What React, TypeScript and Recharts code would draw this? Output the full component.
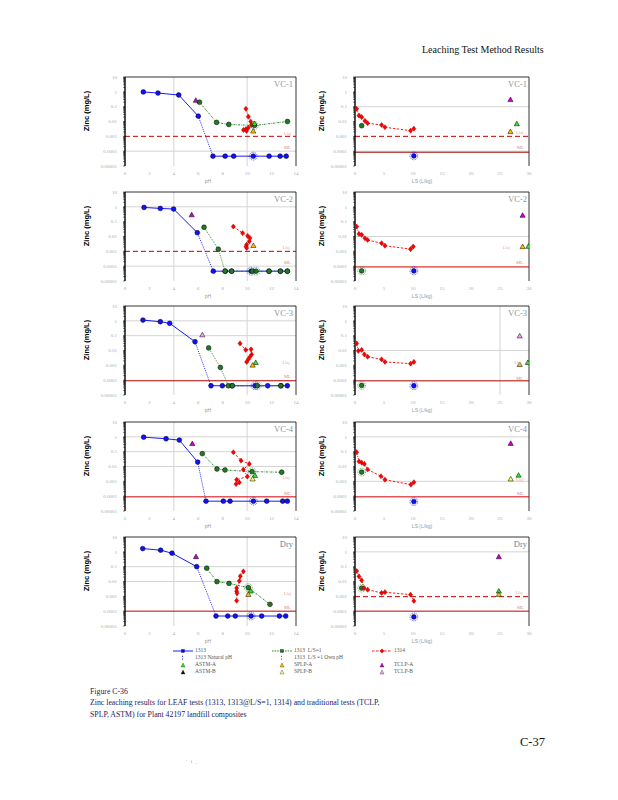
import { ScatterChart, Scatter, XAxis, YAxis, ReferenceLine, ReferenceDot } from "recharts";

type P = [number, number];
type Tri = [string, number, number];
type Ring = ["b" | "g", number, number];
type Note = [string, number, number];

// ---- VC-1 (pH / L/S)
const vc1PhBlue: P[] = [[1.5, 0.98], [2.7, 0.83], [4.4, 0.61], [6.0, 0.023], [7.2, 4.6e-5], [8.2, 4.6e-5], [8.9, 4.6e-5], [10.5, 4.6e-5], [11.8, 4.6e-5], [12.7, 4.6e-5], [13.2, 4.6e-5]];
const vc1PhGreen: P[] = [[6.1, 0.2], [7.5, 0.0087], [8.5, 0.0063], [10.6, 0.0054], [13.3, 0.01]];
const vc1PhRed: P[] = [[9.9, 0.072], [10.1, 0.021], [10.3, 0.0098], [10.35, 0.0058], [10.1, 0.0038], [9.9, 0.0031], [9.7, 0.0027], [9.95, 0.0023]];
const vc1PhTri: Tri[] = [["tclpA", 5.8, 0.26], ["astmA", 10.6, 0.0071], ["splpA", 10.5, 0.0022]];
const vc1PhNat: Ring[] = [["b", 10.5, 4.6e-5], ["g", 10.6, 0.0054]];
const vc1PhNotes: Note[] = [["Llaj", 13.3, 0.0017], ["ML", 13.3, 1.7e-4]];

const vc1LsRed: P[] = [[0.29, 0.071], [0.69, 0.025], [1.15, 0.02], [1.72, 0.011], [2.18, 0.0076], [4.59, 0.0058], [5.16, 0.0041], [9.58, 0.0024], [10.15, 0.0033]];
const vc1LsGreen: P[] = [[1.15, 0.0052]];
const vc1LsBlue: P[] = [[10.15, 4.8e-5]];
const vc1LsTri: Tri[] = [["tclpA", 26.8, 0.29], ["astmA", 27.9, 0.0068], ["splpA", 26.8, 0.002]];
const vc1LsNat: Ring[] = [["b", 10.15, 4.8e-5]];
const vc1LsNotes: Note[] = [["Llaj", 28.4, 0.0019], ["ML", 28.5, 1.8e-4]];

// ---- VC-2
const vc2PhBlue: P[] = [[1.56, 0.91], [2.89, 0.78], [3.98, 0.71], [5.92, 0.018], [7.23, 4.6e-5], [8.21, 4.6e-5], [8.73, 4.6e-5], [10.32, 4.6e-5], [11.79, 4.6e-5], [12.72, 4.6e-5], [13.29, 4.6e-5]];
const vc2PhGreen: P[] = [[6.47, 0.042], [7.64, 0.0014], [8.19, 4.6e-5], [8.73, 4.6e-5], [10.43, 4.6e-5], [10.73, 4.6e-5], [11.79, 4.6e-5], [12.72, 4.6e-5], [13.29, 4.6e-5]];
const vc2PhRed: P[] = [[8.87, 0.047], [9.63, 0.017], [10.04, 0.011], [10.23, 0.0079], [10.18, 0.0047], [9.96, 0.0028], [9.91, 0.0021], [9.96, 0.0017]];
const vc2PhTri: Tri[] = [["tclpA", 5.46, 0.28], ["splpA", 10.51, 0.0024]];
const vc2PhNat: Ring[] = [["b", 10.32, 4.6e-5], ["g", 10.73, 4.6e-5]];
const vc2PhNotes: Note[] = [["Llaj", 13.2, 0.0019], ["ML", 13.3, 1.8e-4]];

const vc2LsRed: P[] = [[0.29, 0.047], [0.69, 0.015], [1.15, 0.013], [1.72, 0.0076], [2.18, 0.0058], [4.59, 0.0035], [5.16, 0.0024], [9.58, 0.0014], [10.04, 0.0021]];
const vc2LsGreen: P[] = [[1.15, 4.8e-5]];
const vc2LsBlue: P[] = [[10.15, 4.8e-5]];
const vc2LsTri: Tri[] = [["tclpA", 28.9, 0.26], ["splpA", 28.9, 0.002], ["astmA", 29.9, 0.0021]];
const vc2LsNat: Ring[] = [["g", 1.15, 4.8e-5], ["b", 10.15, 4.8e-5]];
const vc2LsNotes: Note[] = [["Llaj", 26.1, 0.0019], ["ML", 28.4, 1.8e-4]];

// ---- VC-3
const vc3PhBlue: P[] = [[1.47, 1.12], [2.89, 0.87], [3.66, 0.68], [5.73, 0.039], [7.04, 4.2e-5], [7.97, 4.2e-5], [8.76, 4.2e-5], [10.64, 4.2e-5], [11.68, 4.2e-5], [12.77, 4.2e-5], [13.29, 4.2e-5]];
const vc3PhGreen: P[] = [[6.85, 0.015], [7.81, 7.2e-4], [8.46, 4.2e-5], [8.79, 4.2e-5], [10.84, 4.2e-5], [12.75, 4.2e-5]];
const vc3PhRed: P[] = [[9.42, 0.03], [9.88, 0.011], [10.32, 0.012], [10.37, 0.0054], [10.24, 0.0038], [10.1, 0.0026], [9.96, 0.0017]];
const vc3PhTri: Tri[] = [["tclpB", 6.33, 0.11], ["astmA", 10.7, 0.0015], ["splpA", 10.45, 0.001]];
const vc3PhNat: Ring[] = [["b", 10.64, 4.2e-5], ["g", 10.84, 4.2e-5]];
const vc3PhNotes: Note[] = [["Llaj", 13.2, 0.0017], ["ML", 13.3, 1.7e-4]];

const vc3LsRed: P[] = [[0.29, 0.03], [0.57, 0.0095], [1.15, 0.011], [1.61, 0.0054], [2.18, 0.0038], [4.59, 0.0025], [5.16, 0.0017], [9.58, 0.0013], [10.15, 0.0017]];
const vc3LsGreen: P[] = [[1.15, 4.4e-5]];
const vc3LsBlue: P[] = [[10.15, 4.2e-5]];
const vc3LsTri: Tri[] = [["tclpB", 28.4, 0.093], ["splpA", 28.4, 0.0011], ["astmA", 29.8, 0.0015]];
const vc3LsNat: Ring[] = [["g", 1.15, 4.4e-5], ["b", 10.15, 4.2e-5]];
const vc3LsNotes: Note[] = [["Llaj", 28.1, 0.0017], ["ML", 28.4, 1.3e-4]];

// ---- VC-4
const vc4PhBlue: P[] = [[1.53, 0.95], [3.36, 0.74], [4.45, 0.6], [5.95, 0.02], [6.63, 4.6e-5], [8.05, 4.6e-5], [8.6, 4.6e-5], [10.51, 4.6e-5], [11.6, 4.6e-5], [12.91, 4.6e-5], [13.29, 4.6e-5]];
const vc4PhGreen: P[] = [[6.33, 0.074], [7.53, 0.0068], [8.19, 0.0058], [10.4, 0.0045], [12.83, 0.0041]];
const vc4PhRed: P[] = [[8.87, 0.091], [9.5, 0.025], [10.18, 0.015], [9.69, 0.0062], [10.02, 0.0021], [9.14, 0.0013], [9.36, 8.5e-4], [9.09, 6.5e-4]];
const vc4PhTri: Tri[] = [["tclpA", 5.51, 0.34], ["astmA", 10.64, 0.0024], ["splpB", 10.45, 0.0014]];
const vc4PhNat: Ring[] = [["b", 10.51, 4.6e-5], ["g", 10.4, 0.0045]];
const vc4PhNotes: Note[] = [["Llaj", 13.2, 0.0019], ["ML", 13.3, 1.6e-4]];

const vc4LsRed: P[] = [[0.29, 0.093], [0.69, 0.022], [1.15, 0.018], [1.61, 0.015], [2.18, 0.0063], [4.48, 0.0022], [5.16, 0.0013], [9.64, 6e-4], [10.15, 8.7e-4]];
const vc4LsGreen: P[] = [[1.15, 0.0042]];
const vc4LsBlue: P[] = [[10.15, 4.3e-5]];
const vc4LsTri: Tri[] = [["tclpA", 26.85, 0.35], ["splpB", 26.85, 0.0014], ["astmA", 28.2, 0.0025]];
const vc4LsNat: Ring[] = [["g", 1.15, 0.0042], ["b", 10.15, 4.3e-5]];
const vc4LsNotes: Note[] = [["Llaj", 28.4, 0.0014], ["ML", 28.5, 1.5e-4]];

// ---- Dry
const dryPhBlue: P[] = [[1.45, 1.66], [2.92, 1.29], [3.85, 0.81], [5.87, 0.1], [7.45, 4.7e-5], [8.41, 4.7e-5], [9.03, 4.7e-5], [10.32, 4.7e-5], [11.19, 4.7e-5], [12.64, 4.7e-5], [13.16, 4.7e-5]];
const dryPhGreen: P[] = [[6.69, 0.079], [7.53, 0.0098], [8.52, 0.0074], [10.1, 0.0038], [11.87, 2.9e-4]];
const dryPhRed: P[] = [[9.69, 0.048], [9.44, 0.023], [9.36, 0.011], [9.14, 0.0036], [9.14, 0.0022], [9.17, 0.0016], [9.14, 5.1e-4]];
const dryPhTri: Tri[] = [["tclpA", 5.81, 0.46], ["astmA", 10.29, 0.0022], ["splpA", 10.1, 0.0013]];
const dryPhNat: Ring[] = [["b", 10.32, 4.7e-5], ["g", 10.1, 0.0038]];
const dryPhNotes: Note[] = [["Llaj", 13.3, 0.0016], ["ML", 13.3, 1.7e-4]];

const dryLsRed: P[] = [[0.29, 0.051], [0.69, 0.022], [1.15, 0.012], [1.55, 0.0036], [2.18, 0.0028], [4.59, 0.0017], [5.16, 0.0019], [9.58, 0.0013], [10.15, 4.9e-4]];
const dryLsGreen: P[] = [[1.15, 0.0036]];
const dryLsBlue: P[] = [[10.15, 4.1e-5]];
const dryLsTri: Tri[] = [["tclpA", 24.8, 0.45], ["astmA", 24.8, 0.0022], ["splpA", 24.8, 0.0013]];
const dryLsNat: Ring[] = [["g", 1.15, 0.0036], ["b", 10.15, 4.1e-5]];
const dryLsNotes: Note[] = [["Llaj", 28.3, 0.0018], ["ML", 28.5, 1.7e-4]];

const phTicks = [0, 2, 4, 6, 8, 10, 12, 14];
const lsTicks = [0, 5, 10, 15, 20, 25, 30];

const triColor: Record<string, string> = {
  astmA: "#22ee22", astmB: "#111111", splpA: "#ffbf00", splpB: "#ffff66", tclpA: "#cc00cc", tclpB: "#ff99ff",
};

const yTicks: number[] = [];
for (let e = -5; e <= 0; e++) for (let m = 1; m <= 9; m++) yTicks.push(m * 10 ** e);
yTicks.push(10);

const fmtY = (v: number) => {
  const l = Math.log10(v);
  const e = Math.round(l);
  if (Math.abs(l - e) > 1e-6) return "";
  return e >= 0 ? String(10 ** e) : (10 ** e).toFixed(-e);
};

type PaneCfg = {
  kind: "ph" | "ls";
  top: number;
  title: string;
  blue: P[];
  green: P[];
  red: P[];
  tri: Tri[];
  nat: Ring[];
  notes: Note[];
  grid: number[];
  vgrid: number[];
  dashed?: number;
  ml?: number;
  mlColor?: string;
};

const rows = [76.5, 192, 306, 422, 536.5];

const panes: PaneCfg[] = [
  { kind: "ph", top: rows[0], title: "VC-1", blue: vc1PhBlue, green: vc1PhGreen, red: vc1PhRed, tri: vc1PhTri, nat: vc1PhNat, notes: vc1PhNotes, grid: [1e-4], vgrid: [4, 10], dashed: 1e-3 },
  { kind: "ls", top: rows[0], title: "VC-1", blue: vc1LsBlue, green: vc1LsGreen, red: vc1LsRed, tri: vc1LsTri, nat: vc1LsNat, notes: vc1LsNotes, grid: [0.1, 1e-4], vgrid: [], dashed: 1e-3, ml: 8.5e-5, mlColor: "#a00000" },
  { kind: "ph", top: rows[1], title: "VC-2", blue: vc2PhBlue, green: vc2PhGreen, red: vc2PhRed, tri: vc2PhTri, nat: vc2PhNat, notes: vc2PhNotes, grid: [1, 1e-4], vgrid: [4, 10], dashed: 1e-3 },
  { kind: "ls", top: rows[1], title: "VC-2", blue: vc2LsBlue, green: vc2LsGreen, red: vc2LsRed, tri: vc2LsTri, nat: vc2LsNat, notes: vc2LsNotes, grid: [0.01], vgrid: [], ml: 8.9e-5, mlColor: "#d00000" },
  { kind: "ph", top: rows[2], title: "VC-3", blue: vc3PhBlue, green: vc3PhGreen, red: vc3PhRed, tri: vc3PhTri, nat: vc3PhNat, notes: vc3PhNotes, grid: [1, 0.1], vgrid: [4, 10], ml: 9.1e-5, mlColor: "#b00000" },
  { kind: "ls", top: rows[2], title: "VC-3", blue: vc3LsBlue, green: vc3LsGreen, red: vc3LsRed, tri: vc3LsTri, nat: vc3LsNat, notes: vc3LsNotes, grid: [0.01], vgrid: [25], ml: 9e-5, mlColor: "#b00000" },
  { kind: "ph", top: rows[3], title: "VC-4", blue: vc4PhBlue, green: vc4PhGreen, red: vc4PhRed, tri: vc4PhTri, nat: vc4PhNat, notes: vc4PhNotes, grid: [1, 0.1, 0.01], vgrid: [4, 10], ml: 9e-5, mlColor: "#d00000" },
  { kind: "ls", top: rows[3], title: "VC-4", blue: vc4LsBlue, green: vc4LsGreen, red: vc4LsRed, tri: vc4LsTri, nat: vc4LsNat, notes: vc4LsNotes, grid: [1, 1e-3], vgrid: [], ml: 9e-5, mlColor: "#d00000" },
  { kind: "ph", top: rows[4], title: "Dry", blue: dryPhBlue, green: dryPhGreen, red: dryPhRed, tri: dryPhTri, nat: dryPhNat, notes: dryPhNotes, grid: [0.1, 0.01], vgrid: [4, 10], ml: 1e-4, mlColor: "#c00000" },
  { kind: "ls", top: rows[4], title: "Dry", blue: dryLsBlue, green: dryLsGreen, red: dryLsRed, tri: dryLsTri, nat: dryLsNat, notes: dryLsNotes, grid: [1], vgrid: [], dashed: 9.5e-4, ml: 1e-4, mlColor: "#c00000" },
];

const toXY = (pts: P[]) => pts.map(([x, y]) => ({ x, y }));

// draw joint segments; steep ones come out dotted like the printed figure
const segLine = (color: string, dash: string | undefined, width: number) => (props: any) => {
  const pts: { x: number; y: number }[] = props.points || [];
  const out = [];
  for (let i = 1; i < pts.length; i++) {
    const a = pts[i - 1];
    const b = pts[i];
    const steep = Math.abs(b.y - a.y) > 1.4 * Math.abs(b.x - a.x);
    out.push(
      <line key={i} x1={a.x} y1={a.y} x2={b.x} y2={b.y} stroke={color} strokeWidth={width}
        strokeDasharray={steep ? "0.9 1.1" : dash} />
    );
  }
  return <g>{out}</g>;
};

const dot = (fill: string) => (p: any) => (
  <circle cx={p.cx} cy={p.cy} r={2.4} fill={fill} stroke="#000" strokeWidth={0.5} />
);
const diamond = (p: any) => (
  <path d={`M${p.cx},${p.cy - 2.6}L${p.cx + 2.1},${p.cy}L${p.cx},${p.cy + 2.6}L${p.cx - 2.1},${p.cy}Z`}
    fill="#ff0000" stroke="#900" strokeWidth={0.4} />
);
const triangle = (fill: string) => (p: any) => (
  <path d={`M${p.cx},${p.cy - 2.8}L${p.cx + 2.6},${p.cy + 1.8}L${p.cx - 2.6},${p.cy + 1.8}Z`}
    fill={fill} stroke="#000" strokeWidth={0.5} />
);
const ring = (color: string) => (p: any) => (
  <circle cx={p.cx} cy={p.cy} r={3.9} fill="none" stroke={color} strokeWidth={0.7} strokeDasharray="0.9 0.9" />
);

function Pane({ cfg }: { cfg: PaneCfg }) {
  const ph = cfg.kind === "ph";
  const xMax = ph ? 14 : 30;
  const left = ph ? 80 : 310;
  const plotW = ph ? 171 : 174;
  const triTypes = Array.from(new Set(cfg.tri.map((t) => t[0])));
  return (
    <div style={{ position: "absolute", left, top: cfg.top - 5 }}>
      <ScatterChart width={45 + plotW + 3} height={112} margin={{ top: 5, right: 3, bottom: 0, left: 0 }}>
        <XAxis type="number" dataKey="x" domain={[0, xMax]} ticks={ph ? phTicks : lsTicks} interval={0}
          axisLine={false} tickLine={false} tickSize={2} tick={{ fontSize: 5, fill: "#aaa" }} tickMargin={3.5} height={18} allowDataOverflow />
        <YAxis type="number" dataKey="y" scale="log" domain={[1e-5, 10]} ticks={yTicks} interval={0}
          tickFormatter={fmtY} width={45} axisLine={{ stroke: "#000", strokeWidth: 1.4 }}
          tickLine={{ stroke: "#000", strokeWidth: 0.5 }} tickSize={2} tick={{ fontSize: 5, fill: "#aaa" }}
          tickMargin={6} allowDataOverflow />
        {cfg.grid.map((g) => <ReferenceLine key={"g" + g} y={g} stroke="#d4d4d4" strokeWidth={1} />)}
        {cfg.vgrid.map((g) => <ReferenceLine key={"v" + g} x={g} stroke="#d4d4d4" strokeWidth={1} />)}
        <ReferenceLine y={10} stroke="#000" strokeWidth={0.8} />
        <ReferenceLine x={xMax} stroke="#000" strokeWidth={0.8} />
        {cfg.dashed !== undefined && <ReferenceLine y={cfg.dashed} stroke="#c00000" strokeWidth={1} strokeDasharray="5 3" />}
        {cfg.ml !== undefined && <ReferenceLine y={cfg.ml} stroke={cfg.mlColor} strokeWidth={1} />}
        {cfg.notes.map(([t, x, y]) => (
          <ReferenceDot key={t} x={x} y={y} r={0.1} fill="none" stroke="none" ifOverflow="visible"
            label={{ value: t, fontSize: 4.5, fill: t === "ML" ? "#d08a8a" : "#eba8a8", position: "center" }} />
        ))}
        <Scatter data={toXY(cfg.blue)} fill="#0000ff" shape={dot("#1010ff")} line={segLine("#0000ff", undefined, 0.9)} lineType="joint" isAnimationActive={false} />
        <Scatter data={toXY(cfg.green)} fill="#1a7a1a" shape={dot("#1e7d1e")} line={segLine("#1a7a1a", "2 1 0.6 1", 0.9)} lineType="joint" isAnimationActive={false} />
        <Scatter data={toXY(cfg.red)} fill="#ff0000" shape={diamond} line={segLine("#ff0000", "2.4 1.6", 0.9)} lineType="joint" isAnimationActive={false} />
        <Scatter data={toXY(cfg.nat.filter((n) => n[0] === "b").map((n) => [n[1], n[2]] as P))} shape={ring("#0000ff")} isAnimationActive={false} />
        <Scatter data={toXY(cfg.nat.filter((n) => n[0] === "g").map((n) => [n[1], n[2]] as P))} shape={ring("#1a7a1a")} isAnimationActive={false} />
        {triTypes.map((tt) => (
          <Scatter key={tt} data={toXY(cfg.tri.filter((t) => t[0] === tt).map((t) => [t[1], t[2]] as P))}
            shape={triangle(triColor[tt])} isAnimationActive={false} />
        ))}
      </ScatterChart>
    </div>
  );
}

const serif = "'Liberation Serif', 'Times New Roman', serif";
const sans = "'Liberation Sans', Arial, sans-serif";

function PaneTexts({ cfg }: { cfg: PaneCfg }) {
  const ph = cfg.kind === "ph";
  const yLabelX = ph ? 87 : 322;
  const titleRight = ph ? 618 - 293 : 618 - 527;
  return (
    <>
      <div style={{ position: "absolute", left: yLabelX, top: cfg.top + 34, transform: "translate(-50%,-50%) rotate(-90deg)", fontFamily: sans, fontWeight: 700, fontSize: 7.5, whiteSpace: "nowrap", lineHeight: 1 }}>
        Zinc (mg/L)
      </div>
      <div style={{ position: "absolute", right: titleRight, top: cfg.top + 3, fontFamily: serif, fontSize: 8.5, color: cfg.title === "Dry" ? "#6f7fa0" : "#8c95a5", lineHeight: 1, whiteSpace: "nowrap" }}>
        {cfg.title}
      </div>
      <div style={{ position: "absolute", left: ph ? 208 : 422, top: cfg.top + 104, transform: "translate(-50%,-50%)", fontFamily: sans, fontSize: 5, color: "#999", whiteSpace: "nowrap", lineHeight: 1 }}>
        {ph ? "pH" : "LS (L/kg)"}
      </div>
    </>
  );
}

type LegendIcon = "lineBlue" | "lineGreen" | "lineRed" | "natBlue" | "natGreen" | string;

function Icon({ kind }: { kind: LegendIcon }) {
  if (kind === "lineBlue" || kind === "lineGreen" || kind === "lineRed") {
    const c = kind === "lineBlue" ? "#0000ff" : kind === "lineGreen" ? "#1a7a1a" : "#ff0000";
    const dash = kind === "lineBlue" ? undefined : kind === "lineGreen" ? "1.6 1" : "2.5 1.5";
    return (
      <svg width={22} height={6}>
        <line x1={1} y1={3} x2={21} y2={3} stroke={c} strokeWidth={0.9} strokeDasharray={dash} />
        {kind === "lineRed"
          ? <path d="M11,0.8L13,3L11,5.2L9,3Z" fill={c} stroke="#600" strokeWidth={0.3} />
          : <rect x={9.5} y={1.5} width={3} height={3} fill={c} stroke="#000" strokeWidth={0.3} />}
      </svg>
    );
  }
  if (kind === "natBlue" || kind === "natGreen") {
    const c = kind === "natBlue" ? "#0000ff" : "#1a7a1a";
    return (
      <svg width={22} height={6}>
        <rect x={10} y={0.8} width={1} height={1} fill={c} />
        <rect x={10} y={3.6} width={1} height={1} fill={c} />
      </svg>
    );
  }
  return (
    <svg width={22} height={6}>
      <path d="M11,1L13,5L9,5Z" fill={triColor[kind]} stroke="#000" strokeWidth={0.3} />
    </svg>
  );
}

const legendCols = [172, 271, 371];
const legendRows = [651, 658, 665, 672];
const legendItems: [number, number, LegendIcon, string][] = [
  [0, 0, "lineBlue", "1313"], [1, 0, "lineGreen", "1313  L/S=1"], [2, 0, "lineRed", "1314"],
  [0, 1, "natBlue", "1313 Natural pH"], [1, 1, "natGreen", "1313  L/S =1 Own pH"],
  [0, 2, "astmA", "ASTM-A"], [1, 2, "splpA", "SPLP-A"], [2, 2, "tclpA", "TCLP-A"],
  [0, 3, "astmB", "ASTM-B"], [1, 3, "splpB", "SPLP-B"], [2, 3, "tclpB", "TCLP-B"],
];

export default function App() {
  return (
    <div style={{ position: "absolute", left: 0, top: 0, width: 618, height: 800, background: "#fff", overflow: "hidden" }}>
      <div style={{ position: "absolute", left: 422, top: 45, fontFamily: serif, fontSize: 10, lineHeight: 1, whiteSpace: "nowrap", color: "#111" }}>
        Leaching Test Method Results
      </div>
      {panes.map((p, i) => <Pane key={i} cfg={p} />)}
      {panes.map((p, i) => <PaneTexts key={"t" + i} cfg={p} />)}
      {legendItems.map(([c, r, icon, label]) => (
        <div key={label} style={{ position: "absolute", left: legendCols[c], top: legendRows[r] - 3, display: "flex", alignItems: "center", height: 6 }}>
          <Icon kind={icon} />
          <span style={{ fontFamily: serif, fontSize: 5.5, color: "#555", marginLeft: 1, whiteSpace: "pre", lineHeight: 1 }}>{label}</span>
        </div>
      ))}
      <div style={{ position: "absolute", left: 90, top: 685.5, fontFamily: serif, fontSize: 7.8, color: "#1c1c5e", lineHeight: "11.5px", whiteSpace: "nowrap" }}>
        <div>Figure C-36</div>
        <div>Zinc leaching results for LEAF tests (1313, 1313@L/S=1, 1314) and traditional tests (TCLP,</div>
        <div>SPLP, ASTM) for Plant 42197 landfill composites</div>
      </div>
      <div style={{ position: "absolute", left: 520, top: 736, fontFamily: serif, fontSize: 12.5, lineHeight: 1, color: "#111" }}>
        C-37
      </div>
      <div style={{ position: "absolute", left: 186, top: 759, fontFamily: serif, fontSize: 5, color: "#888", whiteSpace: "pre", lineHeight: 1 }}>
        {"'   i   ,"}
      </div>
    </div>
  );
}
